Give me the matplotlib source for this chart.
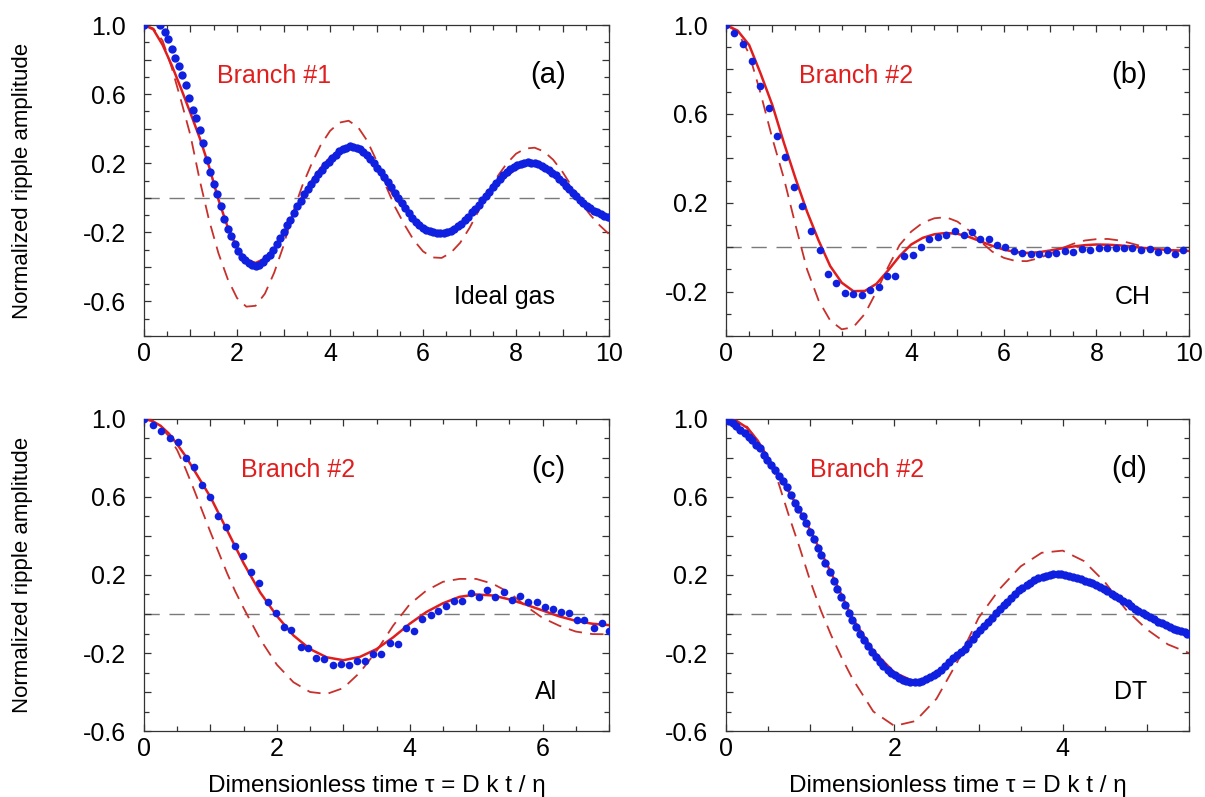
#!/usr/bin/env python3
# coding: utf-8
"""
Normalized ripple amplitude vs dimensionless time, four panels:
ideal gas (a), CH (b), Al (c) and DT (d).
"""

import matplotlib

matplotlib.use("Agg")
import matplotlib.pyplot as plt
from matplotlib.ticker import MultipleLocator, FuncFormatter

plt.rcParams["font.family"] = ["Liberation Sans", "DejaVu Sans"]

# ---------------------------------------------------------------- panel (a)
a_dot_x = [0.0, 0.35, 0.45, 0.52, 0.60, 0.67, 0.75, 0.82, 0.90, 0.97,
           1.05, 1.12, 1.20, 1.27, 1.35, 1.42, 1.50, 1.57, 1.65, 1.72,
           1.80, 1.87, 1.95, 2.02, 2.10, 2.17, 2.25, 2.32, 2.40, 2.47,
           2.55, 2.62, 2.70, 2.77, 2.85, 2.92, 3.00, 3.07, 3.15, 3.22,
           3.30, 3.37, 3.45, 3.52, 3.60, 3.67, 3.75, 3.82, 3.90, 3.97,
           4.05, 4.12, 4.20, 4.27, 4.35, 4.42, 4.50, 4.57, 4.65, 4.72,
           4.80, 4.87, 4.95, 5.02, 5.10, 5.17, 5.25, 5.32, 5.40, 5.47,
           5.55, 5.62, 5.70, 5.77, 5.85, 5.92, 6.00, 6.07, 6.15, 6.22,
           6.30, 6.37, 6.45, 6.52, 6.60, 6.67, 6.75, 6.82, 6.90, 6.97,
           7.05, 7.12, 7.20, 7.27, 7.35, 7.42, 7.50, 7.57, 7.65, 7.72,
           7.80, 7.87, 7.95, 8.02, 8.10, 8.17, 8.25, 8.32, 8.40, 8.47,
           8.55, 8.62, 8.70, 8.77, 8.85, 8.92, 9.00, 9.07, 9.15, 9.22,
           9.30, 9.37, 9.45, 9.52, 9.60, 9.67, 9.75, 9.82, 9.90, 9.97]
a_dot_y = [1.00, 1.00, 0.96, 0.92, 0.86, 0.81, 0.76, 0.71, 0.65, 0.58,
           0.51, 0.46, 0.39, 0.32, 0.22, 0.15, 0.08, 0.02, -0.05, -0.12,
           -0.18, -0.22, -0.27, -0.31, -0.34, -0.36, -0.38, -0.39, -0.395, -0.39,
           -0.37, -0.35, -0.33, -0.30, -0.27, -0.23, -0.20, -0.16, -0.13, -0.09,
           -0.05, -0.02, 0.02, 0.05, 0.08, 0.11, 0.14, 0.16, 0.19, 0.21,
           0.23, 0.25, 0.27, 0.285, 0.29, 0.30, 0.295, 0.29, 0.28, 0.265,
           0.245, 0.225, 0.20, 0.175, 0.15, 0.12, 0.09, 0.06, 0.03, 0.00,
           -0.03, -0.06, -0.09, -0.115, -0.14, -0.16, -0.175, -0.185, -0.195, -0.20,
           -0.205, -0.205, -0.205, -0.20, -0.19, -0.18, -0.165, -0.15, -0.13, -0.11,
           -0.085, -0.065, -0.04, -0.015, 0.01, 0.035, 0.06, 0.085, 0.11, 0.13,
           0.15, 0.165, 0.18, 0.19, 0.195, 0.20, 0.205, 0.20, 0.20, 0.195,
           0.185, 0.175, 0.16, 0.145, 0.13, 0.11, 0.09, 0.07, 0.05, 0.03,
           0.01, -0.01, -0.03, -0.045, -0.06, -0.075, -0.085, -0.095, -0.105, -0.11]
a_line_x = [0.0, 0.2, 0.4, 0.6, 0.8, 1.0, 1.2, 1.4, 1.6, 1.8,
            2.0, 2.2, 2.4, 2.6, 2.8, 3.0, 3.2, 3.4, 3.6, 3.8,
            4.0, 4.2, 4.4, 4.6, 4.8, 5.0, 5.2, 5.4, 5.6, 5.8,
            6.0, 6.2, 6.4, 6.6, 6.8, 7.0, 7.2, 7.4, 7.6, 7.8,
            8.0, 8.2, 8.4, 8.6, 8.8, 9.0, 9.2, 9.4, 9.6, 9.8, 10.0]
a_solid_y = [1.0, 0.975, 0.885, 0.765, 0.63, 0.49, 0.345, 0.18, -0.01, -0.17,
             -0.29, -0.36, -0.377, -0.352, -0.294, -0.208, -0.104, 0.005, 0.094, 0.172,
             0.232, 0.273, 0.287, 0.274, 0.235, 0.169, 0.089, 0.0, -0.063, -0.12,
             -0.168, -0.196, -0.205, -0.191, -0.158, -0.109, -0.05, 0.016, 0.076, 0.128,
             0.167, 0.19, 0.195, 0.178, 0.145, 0.095, 0.037, -0.018, -0.063, -0.10, -0.13]
a_dash_y = [1.0, 0.98, 0.91, 0.75, 0.56, 0.36, 0.10, -0.13, -0.32, -0.47,
            -0.58, -0.63, -0.625, -0.555, -0.433, -0.278, -0.088, 0.067, 0.194, 0.305,
            0.387, 0.435, 0.446, 0.41, 0.33, 0.215, 0.07, -0.054, -0.155, -0.245,
            -0.31, -0.345, -0.348, -0.318, -0.26, -0.175, -0.073, 0.036, 0.123, 0.198,
            0.255, 0.285, 0.29, 0.268, 0.22, 0.15, 0.065, -0.03, -0.10, -0.16, -0.21]

# ---------------------------------------------------------------- panel (b)
b_dot_x = [0.0, 0.175, 0.375, 0.56, 0.73, 0.92, 1.10, 1.28, 1.47, 1.65,
           1.83, 2.02, 2.20, 2.38, 2.57, 2.75, 2.93, 3.12, 3.30, 3.48,
           3.66, 3.84, 4.03, 4.21, 4.39, 4.58, 4.76, 4.94, 5.13, 5.31,
           5.49, 5.68, 5.86, 6.03, 6.22, 6.40, 6.58, 6.77, 6.95, 7.13,
           7.32, 7.50, 7.68, 7.87, 8.05, 8.23, 8.42, 8.60, 8.78, 8.97,
           9.15, 9.33, 9.52, 9.70, 9.88]
b_dot_y = [1.0, 0.963, 0.913, 0.84, 0.726, 0.628, 0.50, 0.405, 0.273, 0.184,
           0.071, -0.014, -0.119, -0.161, -0.206, -0.213, -0.217, -0.194, -0.179, -0.128,
           -0.131, -0.041, -0.037, 0.0, 0.036, 0.045, 0.056, 0.075, 0.054, 0.068,
           0.036, 0.038, 0.011, -0.001, -0.019, -0.026, -0.033, -0.030, -0.030, -0.026,
           -0.019, -0.021, -0.008, -0.011, -0.003, -0.004, -0.003, -0.004, -0.004, -0.011,
           -0.008, -0.020, -0.013, -0.032, -0.011]
b_line_x = [0.0, 0.25, 0.5, 0.75, 1.0, 1.25, 1.5, 1.75, 2.0, 2.25,
            2.5, 2.75, 3.0, 3.25, 3.5, 3.75, 4.0, 4.25, 4.5, 4.75,
            5.0, 5.25, 5.5, 5.75, 6.0, 6.25, 6.5, 6.75, 7.0, 7.25,
            7.5, 7.75, 8.0, 8.25, 8.5, 8.75, 9.0, 9.25, 9.5, 9.75, 10.0]
b_solid_y = [1.0, 0.975, 0.91, 0.78, 0.64, 0.47, 0.31, 0.16, 0.03, -0.085,
             -0.16, -0.198, -0.197, -0.165, -0.105, -0.04, 0.012, 0.042, 0.058, 0.064,
             0.06, 0.046, 0.026, 0.006, -0.011, -0.022, -0.026, -0.023, -0.015, -0.006,
             0.003, 0.009, 0.012, 0.011, 0.008, 0.003, -0.003, -0.008, -0.012, -0.015, -0.017]
b_dash_y = [1.0, 0.97, 0.87, 0.69, 0.49, 0.31, 0.10, -0.10, -0.24, -0.33,
            -0.37, -0.36, -0.30, -0.20, -0.09, 0.01, 0.07, 0.11, 0.13, 0.135,
            0.115, 0.075, 0.025, -0.02, -0.048, -0.062, -0.063, -0.05, -0.03, -0.005,
            0.015, 0.03, 0.036, 0.037, 0.03, 0.017, 0.003, -0.008, -0.014, -0.015, -0.012]

# ---------------------------------------------------------------- panel (c)
c_dot_x = [0.0, 0.14, 0.25, 0.39, 0.51, 0.63, 0.75, 0.88, 1.00, 1.12,
           1.24, 1.37, 1.49, 1.61, 1.73, 1.86, 1.98, 2.10, 2.22, 2.36,
           2.47, 2.59, 2.71, 2.84, 2.96, 3.08, 3.20, 3.32, 3.45, 3.57,
           3.70, 3.82, 3.94, 4.06, 4.18, 4.32, 4.42, 4.55, 4.67, 4.79,
           4.93, 5.04, 5.17, 5.29, 5.42, 5.54, 5.66, 5.78, 5.91, 6.03,
           6.15, 6.28, 6.40, 6.52, 6.63, 6.77, 6.89, 7.0]
c_dot_y = [1.0, 0.971, 0.94, 0.905, 0.88, 0.80, 0.754, 0.66, 0.602, 0.503,
           0.448, 0.35, 0.297, 0.217, 0.16, 0.059, 0.006, -0.066, -0.083, -0.168,
           -0.174, -0.225, -0.233, -0.263, -0.254, -0.264, -0.24, -0.24, -0.203, -0.203,
           -0.147, -0.152, -0.074, -0.088, -0.028, -0.006, 0.015, 0.042, 0.066, 0.066,
           0.11, 0.087, 0.122, 0.088, 0.114, 0.074, 0.093, 0.063, 0.063, 0.037,
           0.028, 0.011, 0.003, -0.032, -0.032, -0.071, -0.044, -0.087]
c_line_x = [0.0, 0.125, 0.25, 0.375, 0.5, 0.625, 0.75, 0.875, 1.0, 1.125,
            1.25, 1.375, 1.5, 1.75, 2.0, 2.25, 2.5, 2.75, 3.0, 3.25,
            3.5, 3.75, 4.0, 4.25, 4.5, 4.75, 5.0, 5.25, 5.5, 5.75,
            6.0, 6.25, 6.5, 6.75, 7.0]
c_solid_y = [1.0, 0.99, 0.965, 0.925, 0.87, 0.81, 0.74, 0.67, 0.60, 0.515,
             0.43, 0.345, 0.26, 0.11, -0.01, -0.11, -0.18, -0.222, -0.237, -0.22,
             -0.18, -0.12, -0.05, 0.01, 0.055, 0.088, 0.10, 0.095, 0.075, 0.048,
             0.018, -0.012, -0.035, -0.05, -0.057]
c_dash_y = [1.0, 0.99, 0.96, 0.91, 0.84, 0.745, 0.64, 0.53, 0.42, 0.315,
            0.21, 0.115, 0.03, -0.13, -0.26, -0.35, -0.40, -0.41, -0.38, -0.30,
            -0.19, -0.06, 0.05, 0.12, 0.165, 0.18, 0.18, 0.155, 0.11, 0.04,
            -0.02, -0.06, -0.09, -0.103, -0.104]

# ---------------------------------------------------------------- panel (d)
d_dot_x = [0.00, 0.04, 0.08, 0.12, 0.17, 0.22, 0.27, 0.31, 0.36, 0.40,
           0.45, 0.49, 0.54, 0.58, 0.63, 0.68, 0.73, 0.77, 0.82, 0.86,
           0.91, 0.95, 1.00, 1.04, 1.09, 1.13, 1.18, 1.23, 1.28, 1.32,
           1.37, 1.41, 1.46, 1.50, 1.55, 1.59, 1.64, 1.69, 1.74, 1.78,
           1.83, 1.87, 1.92, 1.96, 2.01, 2.05, 2.10, 2.14, 2.19, 2.24,
           2.29, 2.33, 2.38, 2.42, 2.47, 2.51, 2.56, 2.60, 2.65, 2.70,
           2.75, 2.79, 2.84, 2.88, 2.93, 2.97, 3.02, 3.06, 3.11, 3.16,
           3.21, 3.25, 3.30, 3.34, 3.39, 3.43, 3.48, 3.52, 3.57, 3.61,
           3.66, 3.71, 3.76, 3.80, 3.85, 3.89, 3.94, 3.98, 4.03, 4.07,
           4.12, 4.17, 4.22, 4.26, 4.31, 4.35, 4.40, 4.44, 4.49, 4.53,
           4.58, 4.62, 4.67, 4.72, 4.77, 4.81, 4.86, 4.90, 4.95, 4.99,
           5.04, 5.08, 5.13, 5.18, 5.23, 5.27, 5.32, 5.36, 5.41, 5.45, 5.48]
d_dot_y = [1.000, 0.990, 0.980, 0.962, 0.945, 0.928, 0.910, 0.890, 0.868, 0.850,
           0.816, 0.790, 0.764, 0.740, 0.710, 0.680, 0.650, 0.610, 0.570, 0.540,
           0.500, 0.465, 0.420, 0.385, 0.340, 0.305, 0.260, 0.215, 0.170, 0.130,
           0.085, 0.045, 0.005, -0.031, -0.066, -0.100, -0.134, -0.165, -0.194, -0.220,
           -0.246, -0.266, -0.285, -0.300, -0.314, -0.326, -0.337, -0.344, -0.349, -0.351,
           -0.349, -0.342, -0.333, -0.324, -0.314, -0.300, -0.285, -0.266, -0.246, -0.228,
           -0.211, -0.194, -0.177, -0.152, -0.126, -0.105, -0.083, -0.062, -0.040, -0.018,
           0.003, 0.024, 0.045, 0.062, 0.080, 0.101, 0.122, 0.135, 0.148, 0.161,
           0.174, 0.183, 0.191, 0.196, 0.200, 0.203, 0.205, 0.203, 0.200, 0.196,
           0.191, 0.184, 0.177, 0.171, 0.165, 0.157, 0.148, 0.137, 0.126, 0.116,
           0.105, 0.093, 0.080, 0.067, 0.054, 0.041, 0.028, 0.017, 0.006, -0.004,
           -0.015, -0.028, -0.040, -0.048, -0.057, -0.066, -0.075, -0.081, -0.087, -0.094, -0.100]
d_line_x = [0.0, 0.125, 0.25, 0.375, 0.5, 0.625, 0.75, 0.875, 1.0, 1.125,
            1.25, 1.375, 1.5, 1.75, 2.0, 2.25, 2.5, 2.75, 3.0, 3.25,
            3.5, 3.75, 4.0, 4.25, 4.5, 4.75, 5.0, 5.25, 5.5]
d_solid_y = [1.0, 0.99, 0.955, 0.89, 0.80, 0.71, 0.625, 0.53, 0.43, 0.32,
             0.21, 0.095, -0.02, -0.19, -0.30, -0.35, -0.31, -0.21, -0.085, 0.03,
             0.12, 0.18, 0.20, 0.175, 0.12, 0.06, 0.0, -0.055, -0.10]
d_dash_y = [1.0, 0.99, 0.96, 0.89, 0.80, 0.67, 0.50, 0.34, 0.17, 0.02,
            -0.11, -0.225, -0.33, -0.50, -0.574, -0.549, -0.435, -0.244, -0.02, 0.128,
            0.244, 0.314, 0.325, 0.272, 0.164, 0.023, -0.079, -0.156, -0.20]

XLABEL = "Dimensionless time \u03c4 = D k t / \u03b7"
YLABEL = "Normalized ripple amplitude"

DOT_COLOR = "#1020e0"
SOLID_COLOR = "#e01e1e"
DASH_COLOR = "#c8302c"
FRAME_COLOR = "#333333"


def y_fmt(v, pos):
    # only every second major tick carries a label (1.0, 0.6, 0.2, ...)
    k = (v - 0.2) / 0.4
    if abs(k - round(k)) < 1e-6:
        return f"{v:.1f}"
    return ""


def x_fmt(v, pos):
    if abs(v / 2 - round(v / 2)) < 1e-6:
        return f"{v:.0f}"
    return ""


def draw_panel(ax, dot_x, dot_y, line_x, solid_y, dash_y, xmax, ymin,
               branch, branch_x, tag, material, material_x, ms=5.5):
    ax.axhline(0, color="#7a7a7a", lw=1.0, dashes=(11, 7), zorder=1)
    ax.plot(line_x, dash_y, color=DASH_COLOR, lw=1.3, dashes=(7.5, 4.5),
            zorder=2)
    ax.plot(line_x, solid_y, color=SOLID_COLOR, lw=1.8, zorder=3)
    ax.plot(dot_x, dot_y, "o", color=DOT_COLOR, ms=ms, mew=0, zorder=4)

    ax.set_xlim(0, xmax)
    ax.set_ylim(ymin, 1.0)

    ax.xaxis.set_major_locator(MultipleLocator(1))
    ax.xaxis.set_minor_locator(MultipleLocator(0.5))
    ax.yaxis.set_major_locator(MultipleLocator(0.2))
    ax.yaxis.set_minor_locator(MultipleLocator(0.1))
    ax.xaxis.set_major_formatter(FuncFormatter(x_fmt))
    ax.yaxis.set_major_formatter(FuncFormatter(y_fmt))

    ax.tick_params(which="both", direction="in", top=True, right=True,
                   color=FRAME_COLOR, width=0.9, labelsize=18)
    ax.tick_params(which="major", length=5)
    ax.tick_params(which="minor", length=3.5)
    ax.tick_params(axis="x", pad=4)
    ax.tick_params(axis="y", pad=13)
    for sp in ax.spines.values():
        sp.set_color(FRAME_COLOR)
        sp.set_linewidth(0.9)

    ax.text(branch_x, 0.835, branch, transform=ax.transAxes, color=SOLID_COLOR,
            fontsize=18, ha="left", va="center")
    ax.text(0.87, 0.84, tag, transform=ax.transAxes, fontsize=21,
            ha="center", va="center")
    ax.text(material_x, 0.125, material, transform=ax.transAxes, fontsize=18,
            ha="center", va="center")


fig = plt.figure(figsize=(12.05, 7.97), dpi=100)

ax_a = fig.add_axes([0.1195, 0.5784, 0.3859, 0.3902])
ax_b = fig.add_axes([0.6025, 0.5784, 0.3842, 0.3902])
ax_c = fig.add_axes([0.1195, 0.0828, 0.3859, 0.3915])
ax_d = fig.add_axes([0.6025, 0.0828, 0.3842, 0.3915])

draw_panel(ax_a, a_dot_x, a_dot_y, a_line_x, a_solid_y, a_dash_y, 10, -0.8,
           "Branch #1", 0.156, "(a)", "Ideal gas", 0.775, ms=6)
draw_panel(ax_b, b_dot_x, b_dot_y, b_line_x, b_solid_y, b_dash_y, 10, -0.4,
           "Branch #2", 0.157, "(b)", "CH", 0.878)
draw_panel(ax_c, c_dot_x, c_dot_y, c_line_x, c_solid_y, c_dash_y, 7, -0.6,
           "Branch #2", 0.208, "(c)", "Al", 0.864)
draw_panel(ax_d, d_dot_x, d_dot_y, d_line_x, d_solid_y, d_dash_y, 5.5, -0.6,
           "Branch #2", 0.182, "(d)", "DT", 0.874, ms=6)

for ax in (ax_a, ax_c):
    ax.set_ylabel(YLABEL, fontsize=16)
    ax.yaxis.set_label_coords(-0.238, 0.5)

for ax in (ax_c, ax_d):
    ax.set_xlabel(XLABEL, fontsize=17.5)
    ax.xaxis.set_label_coords(0.5, -0.14)

fig.savefig("out.png", dpi=100)
